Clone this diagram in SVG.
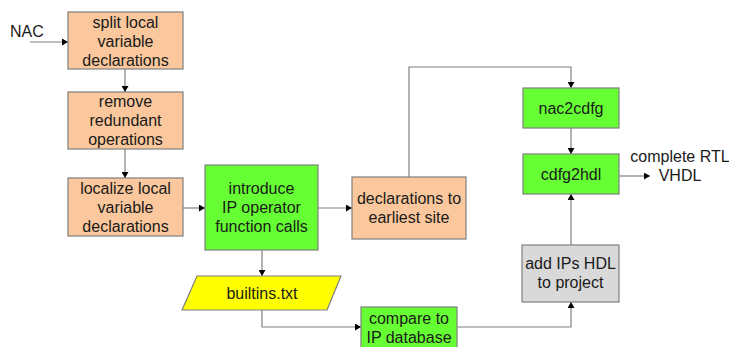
<svg xmlns="http://www.w3.org/2000/svg" width="729" height="347" viewBox="0 0 729 347">
  <defs>
    <marker id="arrow" markerWidth="6" markerHeight="7" refX="6" refY="3.5" orient="auto" markerUnits="userSpaceOnUse">
      <path d="M0,0 L6,3.5 L0,7 z" fill="#000"/>
    </marker>
    <style>
      .box { stroke: #7f7f7f; stroke-width: 1.2; }
      .orange { fill: #fac89c; }
      .green { fill: #66ff33; }
      .gray { fill: #d9d9d9; }
      .yellow { fill: #ffff00; }
      .conn { fill: none; stroke: #808080; stroke-width: 1.2; }
      text { font-family: "Liberation Sans", Arial, sans-serif; font-size: 16px; fill: #1a1a1a; text-anchor: middle; }
      .left { text-anchor: start; }
    </style>
  </defs>
  <rect width="729" height="347" fill="#fff"/>

  <!-- connectors -->
  <g id="connectors">
    <path class="conn" d="M30,42 H68" marker-end="url(#arrow)"/>
    <path class="conn" d="M125,69 V92" marker-end="url(#arrow)"/>
    <path class="conn" d="M125,149 V178" marker-end="url(#arrow)"/>
    <path class="conn" d="M183,208 H205" marker-end="url(#arrow)"/>
    <path class="conn" d="M318,208 H352" marker-end="url(#arrow)"/>
    <path class="conn" d="M409,177 V67 H571 V88" marker-end="url(#arrow)"/>
    <path class="conn" d="M571,128 V154" marker-end="url(#arrow)"/>
    <path class="conn" d="M619,176 H650" marker-end="url(#arrow)"/>
    <path class="conn" d="M262,250 V276" marker-end="url(#arrow)"/>
    <path class="conn" d="M262,310 V327 H361" marker-end="url(#arrow)"/>
    <path class="conn" d="M457,327 H571 V302" marker-end="url(#arrow)"/>
    <path class="conn" d="M571,245 V194" marker-end="url(#arrow)"/>
  </g>

  <g id="nac">
    <text class="left" x="10" y="37">NAC</text>
  </g>

  <g id="split">
    <rect class="box orange" x="68" y="12" width="115" height="57"/>
    <text x="125.5" y="28">split local</text>
    <text x="125.5" y="47">variable</text>
    <text x="125.5" y="66">declarations</text>
  </g>

  <g id="remove">
    <rect class="box orange" x="68" y="92" width="115" height="57"/>
    <text x="125.5" y="107">remove</text>
    <text x="125.5" y="126">redundant</text>
    <text x="125.5" y="145">operations</text>
  </g>

  <g id="localize">
    <rect class="box orange" x="68" y="178" width="115" height="58"/>
    <text x="125.5" y="194">localize local</text>
    <text x="125.5" y="213">variable</text>
    <text x="125.5" y="232">declarations</text>
  </g>

  <g id="introduce">
    <rect class="box green" x="205" y="165" width="113" height="85"/>
    <text x="261.5" y="194">introduce</text>
    <text x="261.5" y="213">IP operator</text>
    <text x="261.5" y="232">function calls</text>
  </g>

  <g id="earliest">
    <rect class="box orange" x="352" y="177" width="114" height="62"/>
    <text x="409" y="203.5">declarations to</text>
    <text x="409" y="222.5">earliest site</text>
  </g>

  <g id="builtins">
    <polygon class="box yellow" points="197,276 341,276 327,310 182,310"/>
    <text x="262" y="298.5">builtins.txt</text>
  </g>

  <g id="compare">
    <rect class="box green" x="361" y="307" width="96" height="45"/>
    <text x="409" y="323.5">compare to</text>
    <text x="409" y="342.5">IP database</text>
  </g>

  <g id="nac2cdfg">
    <rect class="box green" x="523" y="88" width="96" height="40"/>
    <text x="571" y="113.5">nac2cdfg</text>
  </g>

  <g id="cdfg2hdl">
    <rect class="box green" x="523" y="154" width="96" height="40"/>
    <text x="571" y="179.5">cdfg2hdl</text>
  </g>

  <g id="addips">
    <rect class="box gray" x="522" y="245" width="97" height="57"/>
    <text x="570.5" y="268.5">add IPs HDL</text>
    <text x="570.5" y="287.5">to project</text>
  </g>

  <g id="output">
    <text x="680" y="161.5">complete RTL</text>
    <text x="680" y="180.5">VHDL</text>
  </g>
</svg>
